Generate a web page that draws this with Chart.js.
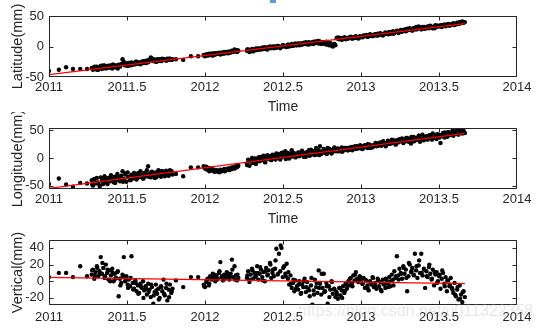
<!DOCTYPE html>
<html>
<head>
<meta charset="utf-8">
<script src="https://cdn.jsdelivr.net/npm/chart.js@4.4.0/dist/chart.umd.min.js"></script>
<style>
  html, body { margin: 0; padding: 0; background: #fff; width: 542px; height: 328px; overflow: hidden; }
  body { position: relative; }
  canvas { position: absolute; left: 0; }
  #blueTab { position: absolute; left: 270px; top: 0; width: 6px; height: 3px; background: #5b9bd5; }
</style>
</head>
<body>
<div id="blueTab"></div>
<canvas id="latChart" width="542" height="116" style="top:0px"></canvas>
<canvas id="lonChart" width="542" height="116" style="top:112px"></canvas>
<canvas id="vertChart" width="542" height="120" style="top:224px"></canvas>
<script>
/* GPS time series: latitude / longitude / vertical, with linear fit */

// epochs, days since 2011.0
const days = [
  0, 23, 40, 56, 73, 89,
  100, 103, 106, 109, 112, 115, 118, 121, 124, 127,
  130, 133, 136, 139, 142, 145, 148, 151, 154, 157,
  160, 163, 166, 169, 172, 175, 178, 181, 184, 187,
  190, 193, 196, 199, 202, 205, 208, 211, 214, 217,
  220, 223, 226, 229, 232, 235, 238, 241, 244, 247,
  250, 253, 256, 259, 262, 265, 268, 271, 274, 277,
  280, 283, 286, 289,
  297, 314, 332, 349,
  362, 365, 368, 371, 374, 377, 380, 383, 386, 389,
  392, 395, 398, 401, 404, 407, 410, 413, 416, 419,
  422, 425, 428, 431, 434, 437, 440, 443,
  463, 466, 469, 472, 475, 478, 481, 484, 487, 490,
  493, 496, 499, 502, 505, 508, 511, 514, 517, 520,
  523, 526, 529, 532, 535, 538, 541, 544, 547, 550,
  553, 556, 559, 562, 565, 568, 571, 574, 577, 580,
  583, 586, 589, 592, 595, 598, 601, 604, 607, 610,
  613, 616, 619, 622, 625, 628, 631, 634, 637, 640,
  643, 646, 649, 652, 655, 658, 661, 664, 667, 670,
  673, 676, 679, 682, 685, 688, 691, 694, 697, 700,
  703, 706, 709, 712, 715, 718, 721, 724, 727, 730,
  733, 736, 739, 742, 745, 748, 751, 754, 757, 760,
  763, 766, 769, 772, 775, 778, 781, 784, 787, 790,
  793, 796, 799, 802, 805, 808, 811, 814, 817, 820,
  823, 826, 829, 832, 835, 838, 841, 844, 847, 850,
  853, 856, 859, 862, 865, 868, 871, 874, 877, 880,
  883, 886, 889, 892, 895, 898, 901, 904, 907, 910,
  913, 916, 919, 922, 925, 928, 931, 934, 937, 940,
  943, 946, 949, 952, 955, 958, 961, 964, 967, 970,
  973
];

const latitude = [
  -40, -38, -34, -37, -37, -37,
  -35, -38, -34, -37, -33, -38, -35, -32, -37, -34,
  -31, -36, -33, -35, -31, -34, -36, -30, -34, -31,
  -35, -30, -33, -29, -21, -25, -31, -28, -32, -27,
  -30, -26, -30, -27, -29, -25, -28, -26, -29, -25,
  -27, -24, -27, -23, -26, -22, -18, -20, -24, -22,
  -25, -21, -24, -21, -23, -20, -22, -21, -23, -20,
  -22, -20, -22, -21,
  -21, -22, -16, -16,
  -14, -16, -13, -15, -12, -14, -12, -15, -11, -13,
  -11, -12, -10, -13, -10, -12, -9, -11, -9, -11,
  -8, -10, -7, -9, -5, -7, -9, -7,
  -7, -5, -9, -6, -4, -8, -5, -3, -6, -4,
  -3, -5, -2, -4, -1, -3, -5, -2, 0, -2,
  -1, -3, 0, -2, 1, -1, -3, 0, 2, 0,
  1, -1, 3, 0, 2, 4, 1, 3, 5, 2,
  4, 2, 5, 3, 6, 4, 7, 5, 3, 6,
  5, 7, 4, 8, 6, 9, 5, 7, 4, 6,
  7, 4, 8, 5, 2, 6, 3, 0, 4, 2,
  14, 15, 12, 14, 11, 13, 15, 12, 14, 13,
  15, 16, 13, 15, 14, 17, 15, 13, 16, 15,
  16, 18, 17, 19, 16, 18, 20, 17, 19, 18,
  20, 18, 21, 19, 22, 20, 18, 21, 23, 21,
  22, 24, 21, 23, 25, 22, 24, 26, 23, 25,
  27, 24, 26, 28, 25, 29, 27, 30, 28, 26,
  30, 28, 32, 29, 33, 31, 28, 32, 30, 29,
  31, 33, 30, 34, 32, 30, 33, 35, 32, 34,
  33, 35, 32, 34, 36, 33, 35, 37, 34, 36,
  36, 38, 35, 37, 39, 37, 40, 38, 41, 39,
  40
];

const longitude = [
  -47, -37, -48, -52, -45, -46,
  -40, -50, -38, -46, -36, -44, -49, -35, -41, -47,
  -33, -39, -45, -36, -42, -31, -38, -44, -34, -40,
  -29, -36, -42, -32, -24, -38, -30, -43, -26, -34,
  -40, -30, -37, -27, -33, -39, -29, -35, -24, -31,
  -37, -27, -33, -22, -15, -29, -35, -25, -31, -36,
  -26, -32, -22, -30, -34, -24, -29, -33, -23, -28,
  -32, -22, -27, -30,
  -29, -33, -17, -17,
  -15, -19, -16, -20, -18, -22, -19, -23, -21, -24,
  -22, -25, -23, -21, -24, -22, -20, -23, -21, -19,
  -22, -18, -20, -17, -19, -15, -17, -14,
  -10, -3, -14, -6, 0, -8, -2, -11, -4, 1,
  -6, 2, -3, 4, -7, 0, 5, -2, 3, -4,
  6, -1, 3, 8, 0, 5, -3, 9, 2, 6,
  12, 4, 9, -1, 7, 14, 3, 8, 1, 6,
  10, 3, 8, 13, 5, 9, 2, 11, 7, 4,
  15, 8, 12, 5, 18, 10, 14, 21, 7, 12,
  16, 9, 13, 18, 11, 15, 8, 14, 17, 12,
  14, 17, 12, 16, 19, 13, 17, 15, 18, 14,
  18, 15, 20, 17, 19, 16, 21, 18, 20, 17,
  21, 19, 23, 20, 18, 22, 24, 21, 19, 23,
  24, 21, 26, 23, 28, 22, 25, 27, 24, 26,
  31, 25, 29, 33, 27, 30, 24, 32, 28, 34,
  30, 35, 27, 33, 31, 36, 29, 34, 26, 32,
  38, 31, 36, 33, 40, 29, 35, 42, 32, 37,
  39, 33, 37, 41, 35, 44, 36, 40, 34, 38,
  42, 27, 40, 45, 37, 43, 39, 47, 41, 44,
  46, 40, 48, 43, 50, 42, 47, 54, 44, 49,
  45
];

const vertical = [
  5, 10, 10, 5, 18, 6,
  8, 14, 3, 11, 18, 6, 12, 29, 9, 16,
  4, 20, 10, 2, 13, 7, 15, 0, 9, 4,
  11, -18, 3, -2, 8, 29, 0, 6, -4, 2,
  -6, 30, -2, -9, 1, -12, -5, -14, -3, -8,
  0, -11, -6, -16, -3, -10, -19, -7, -27, -13,
  -4, -15, -9, -20, -6, -12, 2, -17, -8, -23,
  -10, -4, -14, -9,
  1, -7, 5, 5,
  -4, -7, -1, 3, -5, 6, 2, 9, 4, 0,
  7, 3, 10, 23, 5, 1, 8, 4, 11, 6,
  2, 9, 26, 5, 18, 7, 1, 4,
  4, 12, -1, 8, 15, 3, 10, 6, 18, 2,
  9, 14, 5, 11, 0, 16, 7, 13, 22, 4,
  10, 6, 15, 39, 8, 33, 12, 40, 5, 18,
  9, 21, 3, -4, 7, -8, -2, -12, 1, -6,
  -10, 0, -15, -4, -7, 3, -13, -1, -9, -18,
  -5, -28, -11, 2, -7, -14, 13, -3, -16, -8,
  9, -12, -2, -27, -6, -10, 0, -15, -9, -19,
  -13, -21, -8, -17, -11, -6, -14, -3, -9, 0,
  -5, 4, -2, 7, 1, 11, 3, -1, 6, 2,
  -3, 4, -8, 1, -5, -11, 0, -4, 5, -7,
  -2, -9, 3, -6, -1, -12, 2, -4, -8, 1,
  -3, 5, -6, 8, 2, 12, 4, 30, 7, 15,
  10, 3, 18, 9, 14, -12, 6, 20, 11, 16,
  8, 33, 13, 4, 19, 10, 33, 7, 15, -8,
  12, 5, 17, 9, 2, 14, -5, 8, 11, 0,
  6, -9, 3, 10, -3, 5, -12, 1, -6, 4,
  -8, -14, -2, -18, -10, -22, -5, -16, -25, -12,
  -19
];

// second batch of epochs in the dense stretches
const days2 = [
  101, 107, 113, 119, 125, 131, 137, 143, 149, 155,
  161, 167, 173, 179, 185, 191, 197, 203, 209, 215,
  221, 227, 233, 239, 245, 251, 257, 263, 269, 275,
  281, 287,
  363, 369, 375, 381, 387, 393, 399, 405, 411, 417,
  423, 429, 435, 441,
  464, 470, 476, 482, 488, 494, 500, 506, 512, 518,
  524, 530, 536, 542, 548, 554, 560, 566, 572, 578,
  584, 590, 596, 602, 608, 614, 620, 626, 632, 638,
  644, 650, 656, 662, 668, 674, 680, 686, 692, 698,
  704, 710, 716, 722, 728, 734, 740, 746, 752, 758,
  764, 770, 776, 782, 788, 794, 800, 806, 812, 818,
  824, 830, 836, 842, 848, 854, 860, 866, 872, 878,
  884, 890, 896, 902, 908, 914, 920, 926, 932, 938,
  944, 950, 956, 962, 968
];

const latitude2 = [
  -36, -33, -38, -34, -31, -35, -32, -34, -30, -33,
  -36, -31, -28, -30, -27, -31, -28, -25, -28, -26,
  -24, -27, -23, -19, -21, -25, -22, -24, -21, -23,
  -20, -22,
  -15, -13, -14, -12, -13, -11, -12, -10, -11, -9,
  -10, -8, -8, -6,
  -5, -8, -4, -6, -3, -5, -2, -4, -1, -3,
  0, -2, 1, -1, 2, 0, 3, 1, 4, 2,
  5, 3, 6, 4, 7, 5, 8, 6, 9, 7,
  5, 3, 6, 1, 4, 13, 14, 12, 15, 13,
  15, 13, 16, 14, 17, 15, 18, 16, 19, 17,
  20, 18, 21, 19, 22, 20, 23, 21, 24, 22,
  25, 27, 26, 28, 27, 30, 28, 31, 29, 32,
  31, 33, 32, 30, 34, 33, 35, 34, 36, 35,
  37, 36, 38, 40, 39
];

const longitude2 = [
  -48, -39, -45, -51, -37, -43, -47, -36, -41, -45,
  -34, -39, -43, -28, -35, -40, -31, -37, -27, -33,
  -37, -29, -34, -26, -31, -35, -28, -24, -31, -26,
  -29, -24,
  -17, -21, -24, -20, -25, -23, -26, -22, -24, -20,
  -21, -17, -18, -15,
  -13, -5, -9, -1, -6, 2, -4, -8, 1, -3,
  4, -3, 7, 1, 10, -2, 6, 2, 9, 4,
  7, 11, 2, 9, 14, 6, 10, 16, 5, 11,
  13, 7, 16, 10, 19, 12, 15, 11, 18, 14,
  19, 14, 21, 17, 23, 16, 20, 25, 18, 22,
  27, 22, 25, 30, 21, 28, 26, 32, 25, 29,
  33, 28, 36, 31, 38, 30, 34, 40, 32, 37,
  36, 41, 33, 39, 43, 37, 40, 46, 38, 42,
  49, 44, 51, 46, 52
];

const vertical2 = [
  13, 7, 16, 9, 22, 6, 14, 0, 10, 3,
  12, -5, 6, 1, -8, 4, -10, -2, -15, -6,
  -20, -9, -13, -4, -17, -11, -22, -7, -15, -3,
  -19, -12,
  -6, 1, -3, 5, 8, 2, 12, 6, 3, 9,
  5, 14, 2, 8,
  7, 2, 13, 5, 10, 17, 1, 12, 8, 20,
  14, 25, 9, 43, 16, 6, 11, -3, 2, -9,
  -4, -14, 0, -7, -11, 4, -16, -2, -8, 9,
  -13, -6, -19, -1, -10, -16, -8, -20, -12, -5,
  3, -6, 8, 0, 5, -3, 2, -9, -1, 4,
  -6, 1, -10, -3, 3, -7, 0, -5, 6, 2,
  9, 16, 4, 22, 12, 7, 18, 25, 10, 14,
  6, 20, 3, 11, -2, 8, 13, -6, 1, -4,
  -10, -16, -7, -21, -13
];

// linear fit end points (start of 2011 to last epoch)
const fitDays = [0, 973];
const latFit = [-46, 37.4];
const lonFit = [-54.8, 44.4];
const vertFit = [4.7, -2.9];

const xTicks = [2011, 2011.5, 2012, 2012.5, 2013, 2013.5, 2014];
const latTicks = [-50, 0, 50];
const lonTicks = [-50, 0, 50];
const vertTicks = [-20, 0, 20, 40];

const FONT = "'Liberation Sans', Arial, Helvetica, sans-serif";
const INK = '#262626';

const toYear = d => 2011 + d / 365;
const years = days.map(toYear);
const years2 = days2.map(toYear);
const fitYears = fitDays.map(toYear);

// MATLAB style box with inward ticks on all four sides
const boxPlugin = {
  id: 'matBox',
  afterDatasetsDraw(chart) {
    const { ctx, chartArea: a, scales: { x, y } } = chart;
    const L = Math.round(a.left) + 0.5, R = Math.round(a.right) - 0.5;
    const T = Math.round(a.top) + 0.5, B = Math.round(a.bottom) - 0.5;
    const clamp = (v, lo, hi) => Math.min(hi, Math.max(lo, v));
    ctx.save();
    ctx.strokeStyle = INK;
    ctx.lineWidth = 1;
    ctx.beginPath();
    ctx.rect(L, T, R - L, B - T);
    x.ticks.forEach(t => {
      const px = clamp(Math.round(x.getPixelForValue(t.value)) + 0.5, L, R);
      ctx.moveTo(px, T); ctx.lineTo(px, T + 4);
      ctx.moveTo(px, B); ctx.lineTo(px, B - 4);
    });
    y.ticks.forEach(t => {
      const py = clamp(Math.round(y.getPixelForValue(t.value)) + 0.5, T, B);
      ctx.moveTo(L, py); ctx.lineTo(L + 4, py);
      ctx.moveTo(R, py); ctx.lineTo(R - 4, py);
    });
    ctx.stroke();
    ctx.restore();
  }
};

const watermark = {
  id: 'watermark',
  afterDraw(chart) {
    const ctx = chart.ctx;
    ctx.save();
    ctx.font = '16px ' + FONT;
    ctx.fillStyle = 'rgba(170,175,185,0.3)';
    ctx.textBaseline = 'middle';
    ctx.fillText('https://blog.csdn.net/u011322358', 298, 88);
    ctx.restore();
  }
};

function makeChart(id, values, values2, fit, yMin, yMax, yTicks, yTitle, labelPad, extra) {
  const pts = years.map((x, i) => ({ x: x, y: values[i] }))
    .concat(years2.map((x, i) => ({ x: x, y: values2[i] })));
  const fitPts = fitYears.map((x, i) => ({ x: x, y: fit[i] }));
  return new Chart(document.getElementById(id), {
    type: 'scatter',
    data: {
      datasets: [
        { data: fitPts, showLine: true, borderColor: '#ff0000', borderWidth: 1.2,
          pointRadius: 0, pointHoverRadius: 0 },
        { data: pts, backgroundColor: '#000', borderWidth: 0, pointRadius: 2.2,
          pointHoverRadius: 2.2 }
      ]
    },
    options: {
      responsive: false,
      animation: false,
      events: [],
      layout: { padding: { top: 16, right: 25, left: 0, bottom: 0 } },
      plugins: { legend: { display: false }, tooltip: { enabled: false } },
      scales: {
        x: {
          type: 'linear', min: 2011, max: 2014,
          grid: { display: false, drawTicks: false }, border: { display: false },
          afterBuildTicks: s => { s.ticks = xTicks.map(v => ({ value: v })); },
          afterFit: s => { s.height = 39; },
          ticks: { color: INK, padding: labelPad, maxRotation: 0,
                   font: { family: FONT, size: 13 }, callback: v => String(v) },
          title: { display: true, text: 'Time', color: INK, padding: 0,
                   font: { family: FONT, size: 14 } }
        },
        y: {
          type: 'linear', min: yMin, max: yMax,
          grid: { display: false, drawTicks: false }, border: { display: false },
          afterBuildTicks: s => { s.ticks = yTicks.map(v => ({ value: v })); },
          afterFit: s => { s.width = 49; },
          ticks: { color: INK, padding: 5, font: { family: FONT, size: 13 } },
          title: { display: true, text: yTitle, color: INK,
                   padding: { top: 9, bottom: 0 }, font: { family: FONT, size: 14.5 } }
        }
      }
    },
    plugins: extra ? [boxPlugin, extra] : [boxPlugin]
  });
}

makeChart('latChart', latitude, latitude2, latFit, -50, 50, latTicks, 'Latitude(mm)', 3);
makeChart('lonChart', longitude, longitude2, lonFit, -56, 54, lonTicks, 'Longitude(mm)', 3);
makeChart('vertChart', vertical, vertical2, vertFit, -28.5, 49.5, vertTicks, 'Vertical(mm)', 5, watermark);
</script>
</body>
</html>
